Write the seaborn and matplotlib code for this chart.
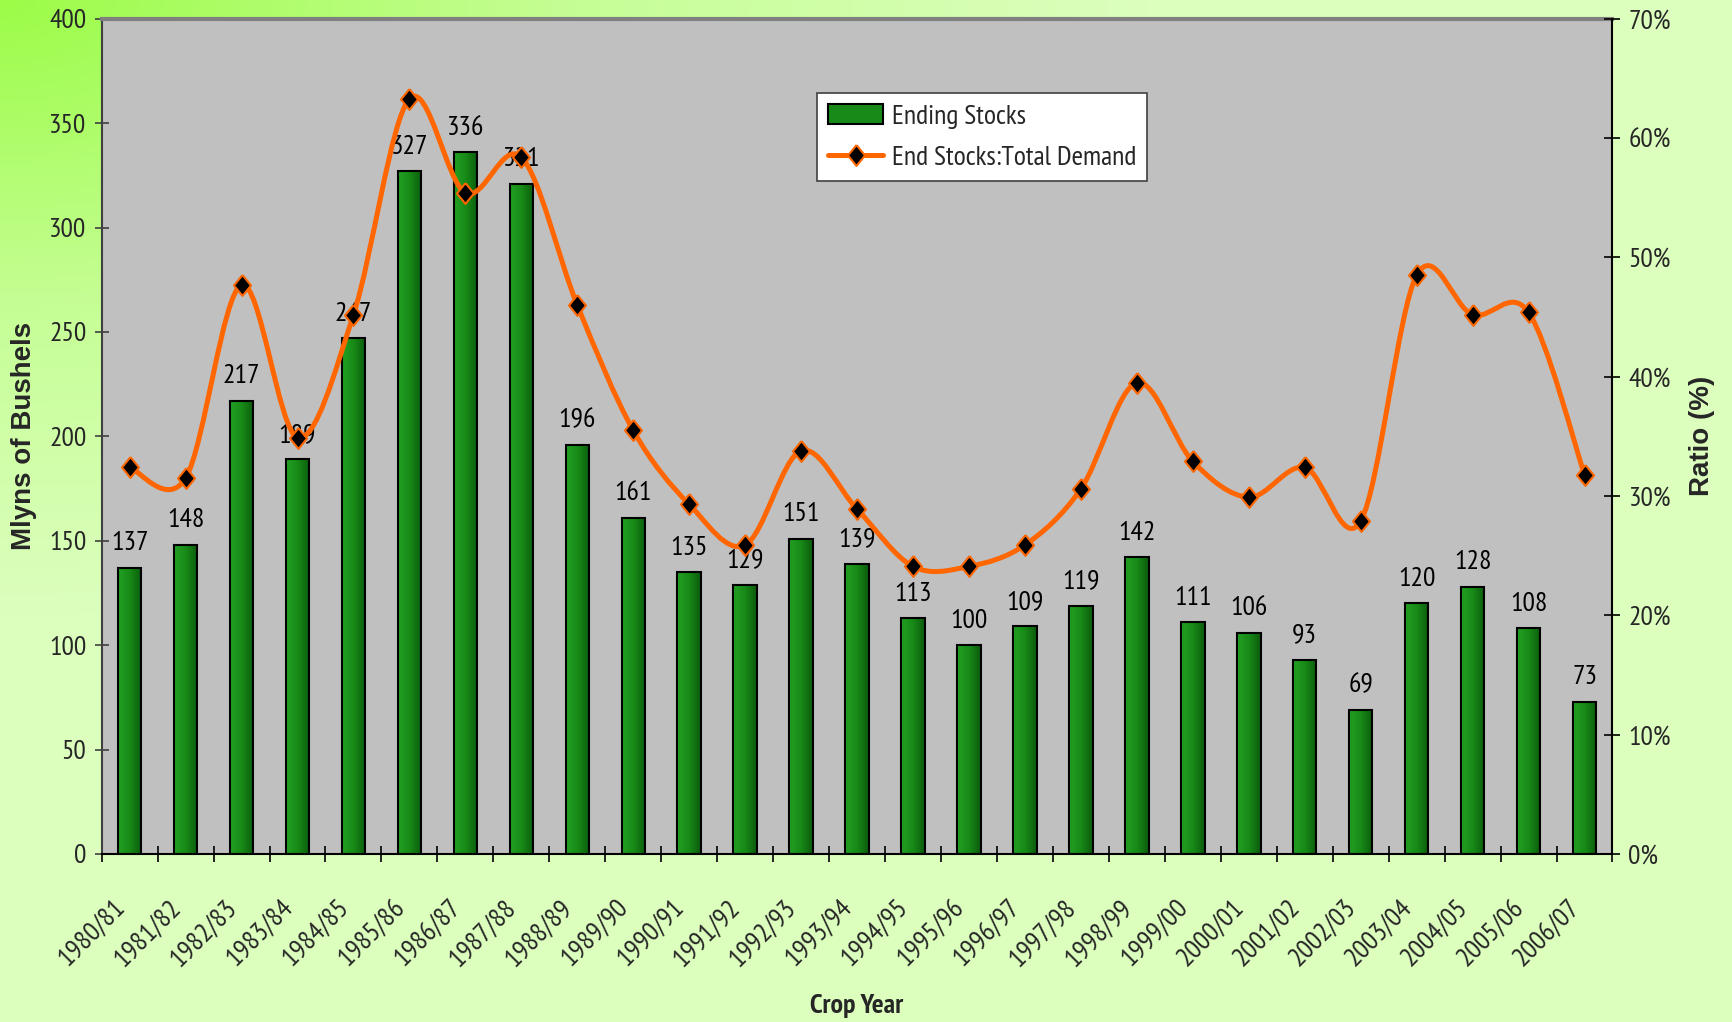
import numpy as np
import matplotlib
matplotlib.use("Agg")
import matplotlib.pyplot as plt
import seaborn as sns
from matplotlib.path import Path
from matplotlib.patches import PathPatch, Patch
from matplotlib.lines import Line2D
from matplotlib.colors import LinearSegmentedColormap
from matplotlib.ticker import MultipleLocator, PercentFormatter

# values
crop_years = ["1980/81", "1981/82", "1982/83", "1983/84", "1984/85", "1985/86",
               "1986/87", "1987/88", "1988/89", "1989/90", "1990/91", "1991/92",
               "1992/93", "1993/94", "1994/95", "1995/96", "1996/97", "1997/98",
               "1998/99", "1999/00", "2000/01", "2001/02", "2002/03", "2003/04",
               "2004/05", "2005/06", "2006/07"]
ending_stocks = [137, 148, 217, 189, 247, 327, 336, 321, 196, 161, 135, 129, 151, 139,
                 113, 100, 109, 119, 142, 111, 106, 93, 69, 120, 128, 108, 73]
stocks_to_demand = [32.4, 31.5, 47.7, 34.9, 45.2, 63.3, 55.4, 58.4, 46.0, 35.5, 29.3,
                    25.9, 33.8, 28.9, 24.1, 24.1, 25.9, 30.6, 39.5, 32.9, 29.9, 32.4,
                    27.9, 48.5, 45.2, 45.4, 31.8]

sns.set_theme(style="white")
narrow = ["PT Sans Narrow", "Liberation Sans", "DejaVu Sans"]
bold_font = ["Liberation Sans", "DejaVu Sans"]
plt.rcParams["font.family"] = narrow

ORANGE = "#ff6600"
FS = 20

fig = plt.figure(figsize=(17.32, 10.22), dpi=100)

# background: green in the top-left corner fading to pale green
bg = fig.add_axes([0, 0, 1, 1], zorder=-10)
gx, gy = np.meshgrid(np.linspace(0, 1, 400), np.linspace(0, 1, 240))
t = np.clip(np.sqrt(gx ** 2 + (gy * 1.1) ** 2), 0, 1)
bg_cmap = LinearSegmentedColormap.from_list("bg", ["#9cfc48", "#c6fe96", "#dcffbe", "#dcffbe"])
bg.imshow(t, cmap=bg_cmap, aspect="auto", extent=[0, 1, 0, 1], origin="upper")
bg.axis("off")

ax = fig.add_axes([0.0587, 0.1644, 0.8723, 0.8172])
ax.set_facecolor("#c0c0c0")

sns.barplot(x=crop_years, y=ending_stocks, ax=ax, width=0.42, color="#178a17",
            edgecolor="black", linewidth=1.5, saturation=1)

# horizontal shading inside each bar
bar_cmap = LinearSegmentedColormap.from_list("bar", ["#23a023", "#178a17", "#0c5c0c"])
grad = np.linspace(0, 1, 64).reshape(1, -1)
for p in ax.patches:
    x0, w, h = p.get_x(), p.get_width(), p.get_height()
    im = ax.imshow(grad, cmap=bar_cmap, aspect="auto", extent=[x0, x0 + w, 0, h],
                   zorder=2.5, interpolation="bilinear")
    im.set_clip_path(p)
    p.set_facecolor("none")
    p.set_zorder(3)

ax.bar_label(ax.containers[0], labels=[str(v) for v in ending_stocks], padding=9,
             fontsize=FS, color="black", zorder=4)

ax.set_xlim(-0.5, len(crop_years) - 0.5)
ax.set_ylim(0, 400)
ax.yaxis.set_major_locator(MultipleLocator(50))
ax.set_xlabel("")
ax.set_ylabel("")

ax.set_xticks(range(len(crop_years)))
ax.set_xticklabels(crop_years, rotation=45, ha="right", va="top", fontsize=FS)
ax.set_xticks(np.arange(-0.5, len(crop_years), 1), minor=True)
ax.tick_params(axis="x", which="major", length=0, pad=30)
ax.tick_params(axis="x", which="minor", direction="inout", length=12, width=1.2,
               color="black", bottom=True)
ax.tick_params(axis="y", which="major", direction="inout", length=10, width=1.2,
               color="#404040", labelsize=FS, pad=6, left=True)

for side in ["left", "bottom"]:
    ax.spines[side].set_visible(True)
ax.spines["left"].set_color("#404040")
ax.spines["left"].set_linewidth(1.5)
ax.spines["bottom"].set_color("black")
ax.spines["bottom"].set_linewidth(1.5)
ax.spines["top"].set_color("#808080")
ax.spines["top"].set_linewidth(3)
ax.spines["right"].set_visible(False)

# ratio line on the secondary axis, smoothed with Bezier segments like the original
ax2 = ax.twinx()
ax2.set_ylim(0, 70)
ax2.yaxis.set_major_locator(MultipleLocator(10))
ax2.yaxis.set_major_formatter(PercentFormatter(xmax=100, decimals=0))
ax2.tick_params(axis="y", direction="inout", length=11, width=1.2, color="black",
                labelsize=FS, pad=6, right=True)
for side in ["left", "top", "bottom"]:
    ax2.spines[side].set_visible(False)
ax2.spines["right"].set_visible(True)
ax2.spines["right"].set_color("black")
ax2.spines["right"].set_linewidth(1.5)

pts = np.column_stack([np.arange(len(stocks_to_demand)), stocks_to_demand]).astype(float)
padded = np.vstack([pts[:1], pts, pts[-1:]])
verts = [tuple(pts[0])]
codes = [Path.MOVETO]
for i in range(len(pts) - 1):
    c1 = padded[i + 1] + (padded[i + 2] - padded[i]) / 6
    c2 = padded[i + 2] - (padded[i + 3] - padded[i + 1]) / 6
    verts += [tuple(c1), tuple(c2), tuple(pts[i + 1])]
    codes += [Path.CURVE4] * 3
ax2.add_patch(PathPatch(Path(verts, codes), facecolor="none", edgecolor=ORANGE,
                        linewidth=3.6, zorder=3, capstyle="round", joinstyle="round"))

diamond = [(0, 1.1), (0.9, 0), (0, -1.1), (-0.9, 0), (0, 1.1)]
ax2.plot(range(len(stocks_to_demand)), stocks_to_demand, linestyle="none",
         marker=diamond, markersize=15, markerfacecolor="black",
         markeredgecolor=ORANGE, markeredgewidth=1.5, zorder=4)

handles = [Patch(facecolor="#178a17", edgecolor="black", linewidth=1.5),
           Line2D([0], [0], color=ORANGE, linewidth=3.6, marker=diamond, markersize=15,
                  markerfacecolor="black", markeredgecolor=ORANGE, markeredgewidth=1.5)]
leg = ax2.legend(handles, ["Ending Stocks", "End Stocks:Total Demand"],
                 loc="upper left", bbox_to_anchor=(0.4733, 0.9112), borderaxespad=0,
                 fontsize=FS, frameon=True, fancybox=False, framealpha=1,
                 edgecolor="#404040", handlelength=2.0, handletextpad=0.3,
                 labelspacing=0.6, borderpad=0.4)
leg.get_frame().set_linewidth(1.2)

# axis titles
fig.text(0.0139, 0.5734, "Mlyns of Bushels", rotation=90, ha="center", va="center",
         fontsize=20, fontweight="bold", family=bold_font)
fig.text(0.9827, 0.5734, "Ratio (%)", rotation=90, ha="center", va="center",
         fontsize=20, fontweight="bold", family=bold_font)
fig.text(0.4948, 0.0157, "Crop Year", ha="center", va="center", fontsize=20,
         fontweight="bold", family=["PT Sans Narrow", "Liberation Sans"])

# chart title sits above the canvas, only its descenders show
fig.text(0.358, 1.0095, "U.S. Ending Stocks (MB)", ha="left", va="baseline",
         fontsize=32, fontweight="bold", family=bold_font)

fig.savefig("out.png", dpi=100)
